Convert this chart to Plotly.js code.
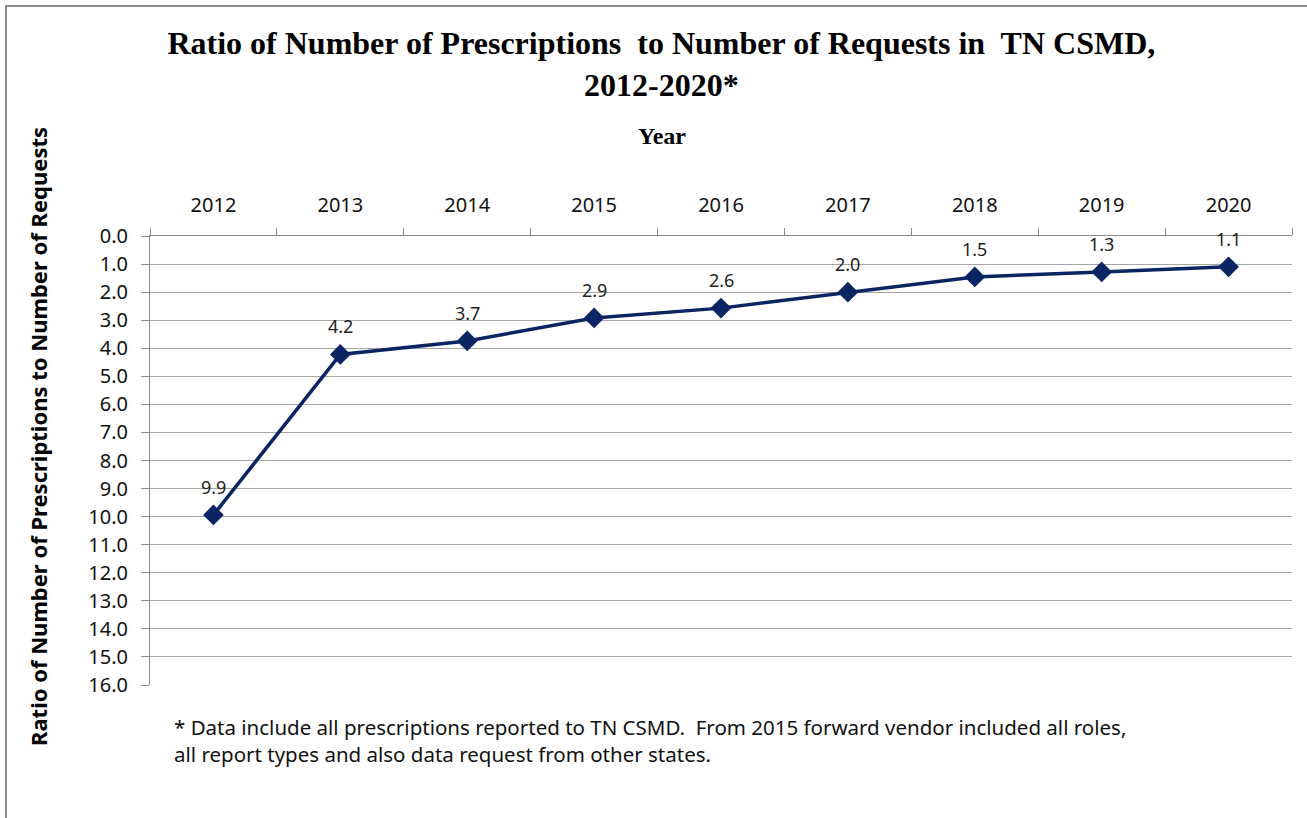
<!DOCTYPE html>
<html>
<head>
<meta charset="utf-8">
<script src="https://cdn.plot.ly/plotly-3.0.1.min.js"></script>
<style>
html,body{margin:0;padding:0;background:#fff;overflow:hidden;}
#wrap{position:relative;width:1307px;height:818px;}
#chart{position:absolute;left:0;top:0;width:1307px;height:818px;}
#frame{position:absolute;left:5px;top:5px;width:1330px;height:840px;border:2px solid #8a8a8a;box-sizing:border-box;pointer-events:none;}
</style>
</head>
<body>
<div id="wrap"><div id="chart"></div><div id="frame"></div></div>
<script>
const years = ['2012','2013','2014','2015','2016','2017','2018','2019','2020'];
const ratios = [9.94, 4.22, 3.74, 2.92, 2.57, 2.0, 1.46, 1.28, 1.1];
const yTickVals = [0,1,2,3,4,5,6,7,8,9,10,11,12,13,14,15,16];

const navy = '#0b2463';
const bodyFont = 'Noto Sans, Open Sans, sans-serif';
const serifFont = 'Liberation Serif, Times New Roman, serif';

const trace = {
  x: years,
  y: ratios,
  type: 'scatter',
  mode: 'lines+markers',
  line: {color: navy, width: 3.5},
  marker: {symbol: 'diamond', size: 16, color: navy},
  hoverinfo: 'x+y',
  showlegend: false
};

const labelAnnotations = years.map((yr, i) => ({
  x: i, y: ratios[i], xref: 'x', yref: 'y',
  text: ratios[i].toFixed(1),
  showarrow: false,
  yshift: 28,
  font: {family: bodyFont, size: 18, color: '#222'}
}));

const footnote = {
  xref: 'paper', yref: 'paper', x: 0.0193, y: -0.058,
  xanchor: 'left', yanchor: 'top', align: 'left',
  showarrow: false,
  text: '* Data include all prescriptions reported to TN CSMD.  From 2015 forward vendor included all roles,<br>all report types and also data request from other states.',
  font: {family: bodyFont, size: 20.5, color: '#111'}
};

const xTitle = {
  xref: 'paper', yref: 'paper',
  x: (662 - 150) / 1142, y: 1 + (236 - 136) / 449,
  xanchor: 'center', yanchor: 'middle', showarrow: false,
  text: '<b>Year</b>',
  font: {family: serifFont, size: 24, color: '#000'}
};

const yTitle = {
  xref: 'paper', yref: 'paper',
  x: (38 - 150) / 1142, y: (685 - 437) / 449,
  xanchor: 'center', yanchor: 'middle', showarrow: false,
  textangle: -90,
  text: '<b>Ratio of Number of Prescriptions to Number of Requests</b>',
  font: {family: bodyFont, size: 22, color: '#000'}
};

const layout = {
  width: 1307, height: 818,
  margin: {l: 150, r: 15, t: 236, b: 133},
  paper_bgcolor: '#fff', plot_bgcolor: '#fff',
  title: {
    text: '<b>Ratio of Number of Prescriptions  to Number of Requests in  TN CSMD,<br>2012-2020*</b>',
    font: {family: serifFont, size: 32, color: '#000'},
    x: 0.506, xanchor: 'center', yref: 'container', y: 1 - 54 / 818, yanchor: 'middle'
  },
  xaxis: {
    type: 'category',
    side: 'top',
    range: [-0.5, 8.5],
    tickson: 'boundaries',
    ticks: 'outside', ticklen: 7, tickcolor: '#8a8a8a', tickwidth: 1,
    showline: true, linecolor: '#8a8a8a', linewidth: 1,
    showgrid: false, zeroline: false,
    tickfont: {family: bodyFont, size: 20, color: '#111'},
    ticklabelstandoff: 15
  },
  yaxis: {
    range: [16, 0],
    tickvals: yTickVals,
    tickformat: '.1f',
    ticks: 'outside', ticklen: 8, tickcolor: '#8a8a8a', tickwidth: 1,
    showline: true, linecolor: '#8a8a8a', linewidth: 1,
    showgrid: true, gridcolor: '#a6a6a6', gridwidth: 1,
    zeroline: false,
    tickfont: {family: bodyFont, size: 20, color: '#111'},
    ticklabelstandoff: 9
  },
  annotations: labelAnnotations.concat([footnote, xTitle, yTitle])
};

Plotly.newPlot('chart', [trace], layout, {displayModeBar: false});
</script>
</body>
</html>
